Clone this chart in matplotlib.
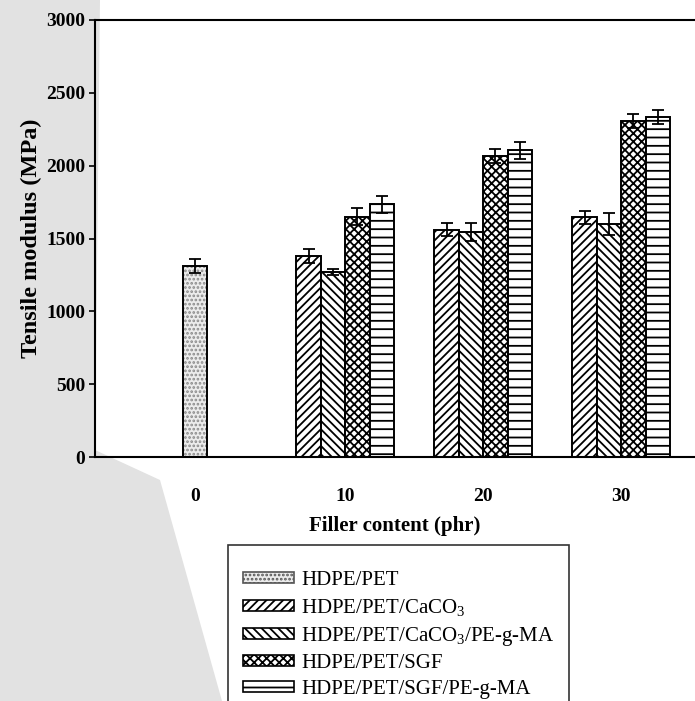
import matplotlib
matplotlib.use("Agg")
import matplotlib.pyplot as plt
from matplotlib.patches import Polygon, Patch
import numpy as np

plt.rcParams['font.family'] = ['Liberation Serif', 'DejaVu Serif']
plt.rcParams['mathtext.fontset'] = 'custom'
plt.rcParams['mathtext.rm'] = 'Liberation Serif'
plt.rcParams['mathtext.it'] = 'Liberation Serif:italic'
plt.rcParams['mathtext.bf'] = 'Liberation Serif:bold'
plt.rcParams['hatch.linewidth'] = 1.3

# ---- data ----
filler_labels = ['0', '10', '20', '30']
series_names = ['HDPE/PET', r'HDPE/PET/CaCO$_3$', r'HDPE/PET/CaCO$_3$/PE-g-MA',
                'HDPE/PET/SGF', 'HDPE/PET/SGF/PE-g-MA']
hdpe_pet = [1310]            # at 0 phr only
hdpe_pet_err = [50]
caco3 = [1380, 1560, 1645]   # at 10, 20, 30 phr
caco3_err = [45, 45, 43]
caco3_ma = [1270, 1545, 1600]
caco3_ma_err = [20, 60, 75]
sgf = [1650, 2065, 2305]
sgf_err = [60, 48, 48]
sgf_ma = [1735, 2105, 2335]
sgf_ma_err = [57, 60, 50]

hatches = ['....', '////', '\\\\\\\\', 'xxxx', '--']

fig = plt.figure(figsize=(6.95, 7.01), dpi=100)

# scanned halftone shading on the left margin
shade = Polygon([(0, 1), (100/695, 1), (95/695, 1-450/701), (160/695, 1-480/701),
                 (222/695, 0), (0, 0)], closed=True, transform=fig.transFigure,
                facecolor='#e2e2e2', edgecolor='none', zorder=-10)
fig.patches.append(shade)

ax = fig.add_axes([95/695, 1-457/701, 1-95/695, 437/701])
ax.set_facecolor('none')

w = 0.1775
g = np.arange(len(filler_labels))

# stippled bar: grey dots, then black outline on top
ax.bar(g[0], hdpe_pet[0], width=w, color='#ececec', edgecolor='#8a8a8a',
       hatch=hatches[0], linewidth=0, zorder=2)
ax.bar(g[0], hdpe_pet[0], width=w, fill=False, edgecolor='black',
       linewidth=1.4, zorder=2.1)
ax.errorbar([g[0]], hdpe_pet, yerr=hdpe_pet_err, fmt='none', ecolor='black',
            elinewidth=1.3, capsize=4.5, capthick=1.3, zorder=3)

others = [caco3, caco3_ma, sgf, sgf_ma]
others_err = [caco3_err, caco3_ma_err, sgf_err, sgf_ma_err]
for k, (vals, errs) in enumerate(zip(others, others_err)):
    xs = g[1:] + (k - 1) * w
    ax.bar(xs, vals, width=w, color='white', edgecolor='black',
           hatch=hatches[k+1], linewidth=1.4, zorder=2)
    ax.errorbar(xs, vals, yerr=errs, fmt='none', ecolor='black',
                elinewidth=1.3, capsize=4.5, capthick=1.3, zorder=3)

ax.set_xlim((95-195)/138, (695-195)/138)
ax.set_ylim(0, 3000)
ax.set_yticks(np.arange(0, 3001, 500))
ticks_x = [g[0]] + list(g[1:] + 0.5 * w)
ax.set_xticks(ticks_x)
ax.set_xticklabels(filler_labels, fontsize=14, fontweight='bold')
for t in ax.get_yticklabels():
    t.set_fontsize(14)
    t.set_fontweight('bold')
ax.tick_params(axis='x', length=0, pad=22)
ax.tick_params(axis='y', direction='out', length=4, width=1.2, pad=3)

for s in ['left', 'bottom', 'top']:
    ax.spines[s].set_linewidth(1.5)
ax.spines['right'].set_visible(False)

ax.set_xlabel('Filler content (phr)', fontsize=15, fontweight='bold', labelpad=8)
ax.set_ylabel('Tensile modulus (MPa)', fontsize=17.5, fontweight='bold', labelpad=3)

# legend handles (proxy patches built from the same styles)
handles = [Patch(facecolor='#ececec', edgecolor='#555555', hatch=hatches[0], linewidth=1.2)]
handles += [Patch(facecolor='white', edgecolor='black', hatch=h, linewidth=1.2)
            for h in hatches[1:]]
leg = fig.legend(handles, series_names, loc='upper left',
                 bbox_to_anchor=(228/695, 1-545/701),
                 fontsize=15, frameon=True, title=' ', title_fontsize=5,
                 fancybox=False, edgecolor='black', handlelength=2.45,
                 handleheight=0.45, labelspacing=0.32, borderpad=0.7,
                 handletextpad=0.35, borderaxespad=0)
leg.get_frame().set_linewidth(1.2)

fig.savefig('out.png', dpi=100)
